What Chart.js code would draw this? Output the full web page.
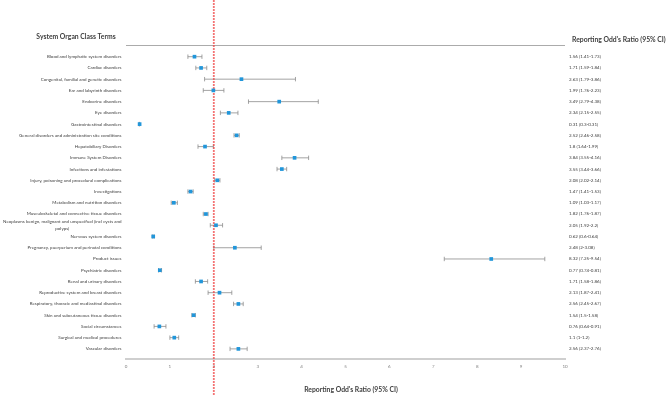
<!DOCTYPE html>
<html>
<head>
<meta charset="utf-8">
<script src="https://cdn.jsdelivr.net/npm/chart.js@4.4.1/dist/chart.umd.min.js"></script>
<style>
  html, body { margin: 0; padding: 0; background: #fff; }
  #wrap { width: 669px; height: 395px; position: relative; }
</style>
</head>
<body>
<div id="wrap"><canvas id="forest" width="669" height="395"></canvas></div>
<script>
// ---- data ----
const categories = [
  'Blood and lymphatic system disorders',
  'Cardiac disorders',
  'Congenital, familial and genetic disorders',
  'Ear and labyrinth disorders',
  'Endocrine disorders',
  'Eye disorders',
  'Gastrointestinal disorders',
  'General disorders and administration site conditions',
  'Hepatobiliary Disorders',
  'Immune System Disorders',
  'Infections and infestations',
  'Injury, poisoning and procedural complications',
  'Investigations',
  'Metabolism and nutrition disorders',
  'Musculoskeletal and connective tissue disorders',
  ['Neoplasms benign, malignant and unspecified (incl cysts and', 'polyps)'],
  'Nervous system disorders',
  'Pregnancy, puerperium and perinatal conditions',
  'Product issues',
  'Psychiatric disorders',
  'Renal and urinary disorders',
  'Reproductive system and breast disorders',
  'Respiratory, thoracic and mediastinal disorders',
  'Skin and subcutaneous tissue disorders',
  'Social circumstances',
  'Surgical and medical procedures',
  'Vascular disorders'
];
const rorValues = [1.56, 1.71, 2.63, 1.99, 3.49, 2.34, 0.31, 2.52, 1.8, 3.84, 3.55, 2.08, 1.47, 1.09,
  1.82, 2.05, 0.62, 2.48, 8.32, 0.77, 1.71, 2.13, 2.56, 1.54, 0.76, 1.1, 2.56];
const ciLow = [1.41, 1.59, 1.79, 1.76, 2.79, 2.15, 0.3, 2.46, 1.64, 3.55, 3.44, 2.02, 1.41, 1.03,
  1.76, 1.92, 0.6, 2, 7.25, 0.74, 1.58, 1.87, 2.45, 1.5, 0.64, 1, 2.37];
const ciHigh = [1.73, 1.84, 3.86, 2.23, 4.38, 2.55, 0.31, 2.58, 1.99, 4.16, 3.66, 2.14, 1.53, 1.17,
  1.87, 2.2, 0.64, 3.08, 9.54, 0.81, 1.86, 2.41, 2.67, 1.58, 0.91, 1.2, 2.76];
const referenceLine = 2;
const xMin = 0, xMax = 10;

const leftHeader = 'System Organ Class Terms';
const rightHeader = "Reporting Odd's Ratio (95% CI)";
const xTitle = "Reporting Odd's Ratio (95% CI)";

const FONT = 'Lato, "Open Sans", sans-serif';
const TEXT = '#404040';

const points = rorValues.map((v, i) => ({ x: v, y: i }));
const ciLabels = rorValues.map((v, i) => `${v} (${ciLow[i]}-${ciHigh[i]})`);

// whiskers, reference line, frame line and side texts
const forestPlugin = {
  id: 'forest',
  beforeDatasetsDraw(chart) {
    const { ctx, chartArea, scales: { x, y } } = chart;
    ctx.save();
    // top rule
    ctx.strokeStyle = '#ababab';
    ctx.lineWidth = 1;
    ctx.beginPath();
    ctx.moveTo(chartArea.left, chartArea.top + 0.5);
    ctx.lineTo(chartArea.right, chartArea.top + 0.5);
    ctx.stroke();
    // confidence intervals
    ctx.strokeStyle = '#8c8c8c';
    ctx.lineWidth = 0.8;
    rorValues.forEach((v, i) => {
      const py = y.getPixelForValue(i);
      const x0 = x.getPixelForValue(ciLow[i]);
      const x1 = x.getPixelForValue(ciHigh[i]);
      ctx.beginPath();
      ctx.moveTo(x0, py); ctx.lineTo(x1, py);
      ctx.moveTo(x0, py - 2.2); ctx.lineTo(x0, py + 2.2);
      ctx.moveTo(x1, py - 2.2); ctx.lineTo(x1, py + 2.2);
      ctx.stroke();
    });
    // reference line at ROR = 2
    const rx = x.getPixelForValue(referenceLine);
    ctx.strokeStyle = 'rgba(240, 70, 70, 0.75)';
    ctx.lineWidth = 1.8;
    ctx.setLineDash([2, 1]);
    ctx.beginPath();
    ctx.moveTo(rx, 0); ctx.lineTo(rx, chart.height);
    ctx.stroke();
    ctx.restore();
  },
  afterDraw(chart) {
    const { ctx, chartArea, scales: { y } } = chart;
    ctx.save();
    ctx.fillStyle = TEXT;
    ctx.textBaseline = 'middle';
    ctx.font = `4.5px ${FONT}`;
    categories.forEach((c, i) => {
      const py = y.getPixelForValue(i);
      if (Array.isArray(c)) {
        const w = ctx.measureText(c[0]).width;
        const cx = chartArea.left - 4.5 - w / 2;
        ctx.textAlign = 'center';
        ctx.fillText(c[0], cx, py - 3.3);
        ctx.fillText(c[1], cx, py + 3.3);
      } else {
        ctx.textAlign = 'right';
        ctx.fillText(c, chartArea.left - 4.5, py);
      }
    });
    ctx.textAlign = 'left';
    ciLabels.forEach((t, i) => {
      ctx.fillText(t, chartArea.right + 4, y.getPixelForValue(i));
    });
    ctx.font = `bold 6.8px ${FONT}`;
    ctx.textAlign = 'center';
    ctx.fillText(leftHeader, 76, 37);
    ctx.textAlign = 'left';
    ctx.fillText(rightHeader, 572, 40);
    ctx.textAlign = 'center';
    ctx.fillText(xTitle, 351, 390);
    ctx.restore();
  }
};

new Chart(document.getElementById('forest'), {
  type: 'scatter',
  data: {
    datasets: [{
      data: points,
      pointStyle: 'rect',
      pointRadius: 2.6,
      pointBorderWidth: 0,
      backgroundColor: 'rgb(33, 150, 218)',
      borderColor: 'rgb(33, 150, 218)'
    }]
  },
  options: {
    responsive: false,
    animation: false,
    layout: { padding: { left: 126, right: 104, top: 45, bottom: 0 } },
    plugins: { legend: { display: false }, tooltip: { enabled: false } },
    scales: {
      x: {
        type: 'linear', min: xMin, max: xMax,
        afterFit: (s) => { s.height = 36; },
        grid: { display: false, drawTicks: false },
        border: { display: true, color: '#cfcfcf', width: 2 },
        ticks: { stepSize: 1, padding: 5, color: '#7f7f7f', font: { family: FONT, size: 4.5 } }
      },
      y: {
        type: 'linear', reverse: true, min: -1.04, max: 26.9,
        display: false
      }
    }
  },
  plugins: [forestPlugin]
});
</script>
</body>
</html>
